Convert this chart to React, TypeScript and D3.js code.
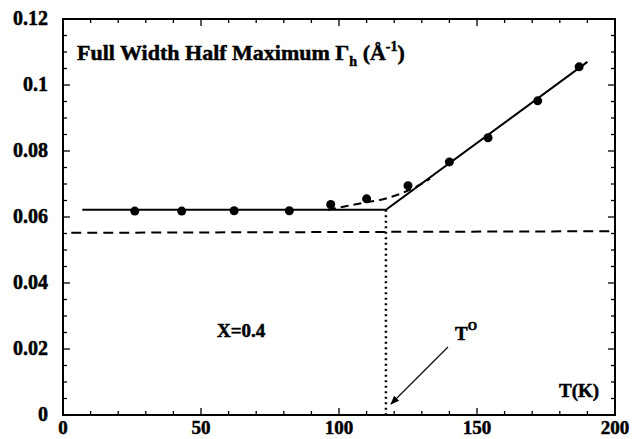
import React from "react";
import * as d3 from "d3";

const tempK = [26, 43, 62, 82, 97, 110, 125, 140, 154, 172, 187];
const fwhm = [0.0618, 0.0618, 0.0619, 0.0619, 0.0638, 0.0655, 0.0695, 0.0767, 0.084, 0.0952, 0.1055];
const fitSolid: [number, number][] = [[7, 0.0622], [117, 0.0622], [190, 0.107]];
const fitDashed: [number, number][] = [[96, 0.0622], [102, 0.0632], [110, 0.0645], [116, 0.0654], [123, 0.0673], [128, 0.0692], [133, 0.0716]];
const baseline: [number, number][] = [[3, 0.0552], [200, 0.0557]];
const tOrder = 117;
const xTickLabels = [0, 50, 100, 150, 200];
const yTickLabels = [0, 0.02, 0.04, 0.06, 0.08, 0.1, 0.12];

const W = 638, H = 439;
const left = 63, right = 615, top = 19, bottom = 415;
const FONT = "'Liberation Serif', 'Times New Roman', serif";

export default function App() {
  const x = d3.scaleLinear().domain([0, 200]).range([left, right]);
  const y = d3.scaleLinear().domain([0, 0.12]).range([bottom, top]);
  const line = d3.line<[number, number]>().x(d => x(d[0])).y(d => y(d[1]));
  const curve = d3.line<[number, number]>().x(d => x(d[0])).y(d => y(d[1])).curve(d3.curveMonotoneX);
  const xMinor = d3.range(0, 201, 10);
  const yMinor = d3.range(0, 0.1201, 0.005);
  const fmt = (v: number) => (v === 0 ? "0" : String(+v.toFixed(2)));
  const arrowStart = [448, 347];
  const arrowEnd = [x(tOrder) + 5, 404];
  return (
    <svg width={W} height={H} style={{ position: "absolute", left: 0, top: 0, background: "#fff" }} fontFamily={FONT} fontWeight="bold">
      <defs>
        <marker id="ah" viewBox="0 0 10 10" refX="9" refY="5" markerWidth="9" markerHeight="9" orient="auto" markerUnits="userSpaceOnUse">
          <path d="M0,1 L10,5 L0,9 Z" fill="#000" />
        </marker>
      </defs>
      <rect x={left} y={top} width={right - left} height={bottom - top} fill="none" stroke="#000" strokeWidth={2} />
      {xMinor.map(t => {
        const major = t % 50 === 0;
        const len = major ? 7 : 4;
        return (
          <g key={"xt" + t}>
            <line x1={x(t)} x2={x(t)} y1={bottom} y2={bottom - len} stroke="#000" strokeWidth={1.3} />
            <line x1={x(t)} x2={x(t)} y1={top} y2={top + len} stroke="#000" strokeWidth={1.3} />
          </g>
        );
      })}
      {yMinor.map((v, i) => {
        const major = i % 4 === 0;
        const len = major ? 7 : 4;
        return (
          <g key={"yt" + i}>
            <line x1={left} x2={left + len} y1={y(v)} y2={y(v)} stroke="#000" strokeWidth={1.3} />
            <line x1={right} x2={right - len} y1={y(v)} y2={y(v)} stroke="#000" strokeWidth={1.3} />
          </g>
        );
      })}
      <g stroke="#000" strokeWidth={0.5}>
        {xTickLabels.map(t => (
          <text key={"xl" + t} x={x(t)} y={434} textAnchor="middle" fontSize={19}>{t}</text>
        ))}
        {yTickLabels.map(v => (
          <text key={"yl" + v} x={48} y={y(v) + 6} textAnchor="end" fontSize={20}>{fmt(v)}</text>
        ))}
        <text x={77} y={60} fontSize={22}>
          Full Width Half Maximum Γ<tspan fontSize={14} dy={6}>h</tspan>
          <tspan dy={-6}> (Å</tspan><tspan fontSize={14} dy={-9}>-1</tspan><tspan dy={9}>)</tspan>
        </text>
        <text x={217} y={337} fontSize={19}>X=0.4</text>
        <text x={455} y={340} fontSize={19}>T<tspan fontSize={12} dy={-10}>O</tspan></text>
        <text x={559} y={397} fontSize={19}>T(K)</text>
      </g>
      <path d={line(baseline) || ""} fill="none" stroke="#000" strokeWidth={2} strokeDasharray="10 6" />
      <line x1={x(tOrder)} x2={x(tOrder)} y1={y(fitSolid[1][1])} y2={bottom} stroke="#000" strokeWidth={2.5} strokeDasharray="2 3.5" />
      <path d={line(fitSolid) || ""} fill="none" stroke="#000" strokeWidth={2} />
      <path d={curve(fitDashed) || ""} fill="none" stroke="#000" strokeWidth={2} strokeDasharray="8 5" />
      {tempK.map((t, i) => (
        <circle key={"p" + i} cx={x(t)} cy={y(fwhm[i])} r={4.5} fill="#000" />
      ))}
      <line x1={arrowStart[0]} y1={arrowStart[1]} x2={arrowEnd[0]} y2={arrowEnd[1]} stroke="#000" strokeWidth={1.1} markerEnd="url(#ah)" />
    </svg>
  );
}
